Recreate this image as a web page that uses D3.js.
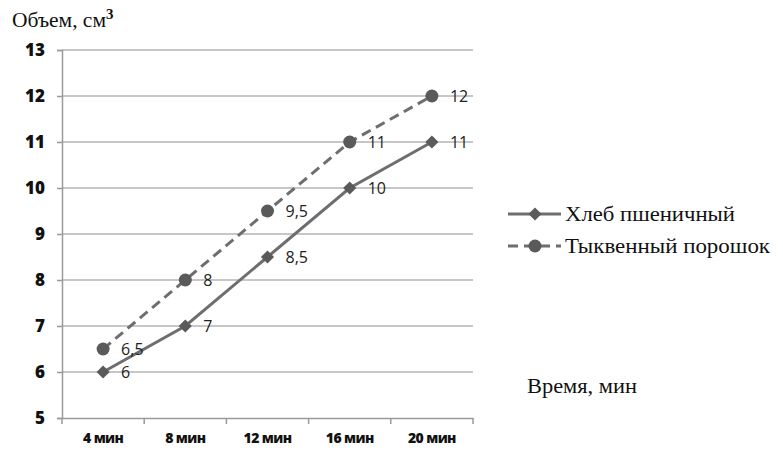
<!DOCTYPE html>
<html>
<head>
<meta charset="utf-8">
<script src="https://cdn.jsdelivr.net/npm/d3@7"></script>
<style>
  body { margin: 0; background: #fff; }
  svg { display: block; }
</style>
</head>
<body>
<script>
'use strict';

// chart data
const categories = ["4 мин", "8 мин", "12 мин", "16 мин", "20 мин"];
const breadValues = [6, 7, 8.5, 10, 11];
const pumpkinValues = [6.5, 8, 9.5, 11, 12];
const seriesNames = ["Хлеб пшеничный", "Тыквенный порошок"];
const yTicks = [5, 6, 7, 8, 9, 10, 11, 12, 13];

const width = 783, height = 473;
const svg = d3.select('body').append('svg')
  .attr('width', width)
  .attr('height', height);

const x = d3.scaleBand().domain(categories).range([62, 473]);
const y = d3.scaleLinear().domain([5, 13]).range([418, 50]);

// horizontal grid lines
svg.append('g')
  .selectAll('line')
  .data(yTicks.slice(1))
  .enter().append('line')
    .attr('x1', 62).attr('x2', 473)
    .attr('y1', d => y(d)).attr('y2', d => y(d))
    .attr('stroke', '#b4b4b4')
    .attr('stroke-width', 1.3);

// y axis
const yAxis = svg.append('g')
  .attr('transform', 'translate(62,0)')
  .call(d3.axisLeft(y).tickValues(yTicks).tickSize(5).tickPadding(12).tickFormat(d3.format('d')));
yAxis.select('.domain').attr('stroke', '#9a9a9a').attr('stroke-width', 1.5);
yAxis.selectAll('.tick line').attr('stroke', '#9a9a9a').attr('stroke-width', 1.5);
yAxis.selectAll('text')
  .style('font-family', 'Open Sans, sans-serif')
  .style('font-weight', '800')
  .style('font-size', '17px')
  .attr('fill', '#111');

// x axis
const xAxis = svg.append('g')
  .attr('transform', 'translate(0,418)')
  .call(d3.axisBottom(x).tickSize(0).tickPadding(15));
xAxis.select('.domain').attr('stroke', '#9a9a9a').attr('stroke-width', 1.5);
xAxis.selectAll('text')
  .style('font-family', 'Open Sans, sans-serif')
  .style('font-weight', '800')
  .style('font-size', '14px')
  .attr('letter-spacing', '-0.6px')
  .attr('fill', '#111');
// tick marks at band boundaries
svg.append('g')
  .selectAll('line')
  .data(categories.concat(['end']))
  .enter().append('line')
    .attr('x1', (d, i) => i < categories.length ? x(d) : x.range()[1])
    .attr('x2', (d, i) => i < categories.length ? x(d) : x.range()[1])
    .attr('y1', 418).attr('y2', 424)
    .attr('stroke', '#9a9a9a')
    .attr('stroke-width', 1.5);

const cx = d => x(d) + x.bandwidth() / 2;
const lineColor = '#6e6e6e';
const markColor = '#5a5a5a';

const line = d3.line()
  .x((d, i) => cx(categories[i]))
  .y(d => y(d));

// pumpkin powder series (dashed)
svg.append('path')
  .datum(pumpkinValues)
  .attr('d', line)
  .attr('fill', 'none')
  .attr('stroke', lineColor)
  .attr('stroke-width', 3)
  .attr('stroke-dasharray', '10,6');

// bread series (solid)
svg.append('path')
  .datum(breadValues)
  .attr('d', line)
  .attr('fill', 'none')
  .attr('stroke', lineColor)
  .attr('stroke-width', 3);

const diamond = d3.symbol().type(d3.symbolDiamond2).size(110);

svg.append('g')
  .selectAll('path')
  .data(breadValues)
  .enter().append('path')
    .attr('d', diamond)
    .attr('transform', (d, i) => 'translate(' + cx(categories[i]) + ',' + y(d) + ')')
    .attr('fill', markColor);

svg.append('g')
  .selectAll('circle')
  .data(pumpkinValues)
  .enter().append('circle')
    .attr('cx', (d, i) => cx(categories[i]))
    .attr('cy', d => y(d))
    .attr('r', 6.5)
    .attr('fill', markColor);

// data labels
const fmt = v => String(v).replace('.', ',');
function labels(values) {
  svg.append('g')
    .selectAll('text')
    .data(values)
    .enter().append('text')
      .attr('x', (d, i) => cx(categories[i]) + 18)
      .attr('y', d => y(d) + 6)
      .attr('font-family', 'Open Sans, sans-serif')
      .attr('font-size', 16)
      .attr('fill', '#222')
      .text(fmt);
}
labels(breadValues);
labels(pumpkinValues);

// axis titles
svg.append('text')
  .attr('x', 12).attr('y', 27)
  .attr('font-family', 'Liberation Serif, serif')
  .attr('font-size', 20)
  .attr('fill', '#111')
  .html('<tspan textLength="94" lengthAdjust="spacingAndGlyphs">Объем, см</tspan><tspan dy="-8" font-size="15" font-weight="bold">3</tspan>');

svg.append('text')
  .attr('x', 527).attr('y', 393)
  .attr('font-family', 'Liberation Serif, serif')
  .attr('font-size', 20)
  .attr('fill', '#111')
  .attr('textLength', 110)
  .attr('lengthAdjust', 'spacingAndGlyphs')
  .text('Время, мин');

// legend
const legendWidths = [170, 205];
const legend = svg.append('g');
seriesNames.forEach((name, i) => {
  const ly = 214 + i * 32;
  legend.append('line')
    .attr('x1', 508).attr('x2', 561)
    .attr('y1', ly).attr('y2', ly)
    .attr('stroke', lineColor)
    .attr('stroke-width', 3)
    .attr('stroke-dasharray', i === 1 ? '10,6' : null);
  if (i === 0) {
    legend.append('path')
      .attr('d', diamond)
      .attr('transform', 'translate(535,' + ly + ')')
      .attr('fill', markColor);
  } else {
    legend.append('circle')
      .attr('cx', 535).attr('cy', ly).attr('r', 6.5)
      .attr('fill', markColor);
  }
  legend.append('text')
    .attr('x', 565).attr('y', ly + 7)
    .attr('font-family', 'Liberation Serif, serif')
    .attr('font-size', 21)
    .attr('fill', '#111')
    .attr('textLength', legendWidths[i])
    .attr('lengthAdjust', 'spacingAndGlyphs')
    .text(name);
});
</script>
</body>
</html>
